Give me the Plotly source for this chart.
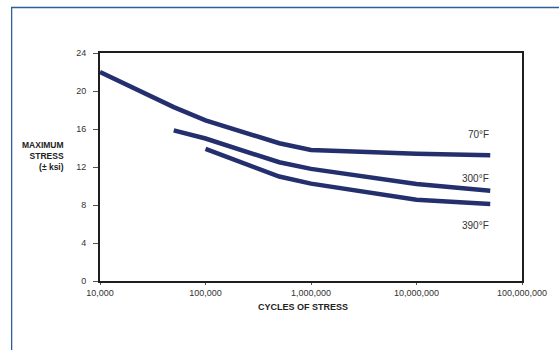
import plotly.graph_objects as go

# Fatigue curves: maximum stress vs. cycles of stress
cycles_70 = [10_000, 50_000, 100_000, 500_000, 1_000_000, 10_000_000, 50_000_000]
stress_70 = [22.0, 18.3, 16.9, 14.5, 13.8, 13.4, 13.25]

cycles_300 = [50_000, 100_000, 500_000, 1_000_000, 10_000_000, 50_000_000]
stress_300 = [15.85, 15.0, 12.5, 11.8, 10.2, 9.5]

cycles_390 = [100_000, 500_000, 1_000_000, 10_000_000, 50_000_000]
stress_390 = [13.9, 11.0, 10.25, 8.55, 8.1]

series_names = ["70°F", "300°F", "390°F"]
label_y = [15.4, 10.8, 5.85]

x_tick_vals = [10_000, 100_000, 1_000_000, 10_000_000, 100_000_000]
x_tick_text = ["10,000", "100,000", "1,000,000", "10,000,000", "100,000,000"]
y_tick_vals = [0, 4, 8, 12, 16, 20, 24]

LINE = "#24306e"
FONT = "Liberation Sans, Arial, sans-serif"

fig = go.Figure()
for xs, ys, name in zip([cycles_70, cycles_300, cycles_390],
                        [stress_70, stress_300, stress_390], series_names):
    fig.add_trace(go.Scatter(x=xs, y=ys, mode="lines", name=name,
                             line=dict(color=LINE, width=4.5),
                             showlegend=False, hoverinfo="skip"))

# Temperature labels at the right end of each curve
for name, yv in zip(series_names, label_y):
    fig.add_annotation(x=7.71, y=yv, xref="x", yref="y", text=name,
                       showarrow=False, xanchor="right", yanchor="middle",
                       font=dict(family=FONT, size=10, color="#333333"))

# Axis titles (positions given in pixels, converted below)
fig.add_annotation(x=304, y=306.5, xref="paper", yref="paper", text="<b>CYCLES OF STRESS</b>",
                   showarrow=False, xanchor="center", yanchor="middle",
                   font=dict(family=FONT, size=9, color="#222222"))
fig.add_annotation(x=66, y=156, xref="paper", yref="paper",
                   text="<b>MAXIMUM<br>STRESS<br>(± ksi)</b>",
                   showarrow=False, xanchor="right", yanchor="middle", align="right",
                   font=dict(family=FONT, size=8.5, color="#222222"))

fig.update_layout(
    width=559, height=350,
    margin=dict(l=100, r=34, t=53, b=69),
    paper_bgcolor="white", plot_bgcolor="white",
    font=dict(family=FONT, size=9, color="#333333"),
)

# Pixel-based placement for paper annotations / border
PL, PR, PT, PB = 100, 525, 53, 281
W, H = PR - PL, PB - PT


def px(x):
    return (x - PL) / W


def py(y):
    return (PB - y) / H


for ann in fig.layout.annotations:
    if ann.xref == "paper":
        ann.x = px(ann.x)
        ann.y = py(ann.y)

# Outer blue frame
fig.add_shape(type="rect", xref="paper", yref="paper",
              x0=px(11), x1=px(600), y0=py(400), y1=py(7.5),
              line=dict(color="#2f5d95", width=1.3), layer="below")

fig.update_xaxes(type="log", range=[4, 8], tickvals=x_tick_vals, ticktext=x_tick_text,
                 showgrid=False, zeroline=False, showline=True, linecolor="#1e1e1e",
                 linewidth=2, mirror=True, ticks="outside", ticklen=2, tickcolor="#555",
                 tickfont=dict(family=FONT, size=9, color="#333333"))
fig.update_yaxes(range=[0, 24], tickvals=y_tick_vals,
                 showgrid=False, zeroline=False, showline=True, linecolor="#1e1e1e",
                 linewidth=2, mirror=True, ticks="outside", ticklen=5, tickcolor="#555",
                 ticklabelstandoff=5,
                 tickfont=dict(family=FONT, size=9, color="#333333"))

fig.write_html("out.html")
